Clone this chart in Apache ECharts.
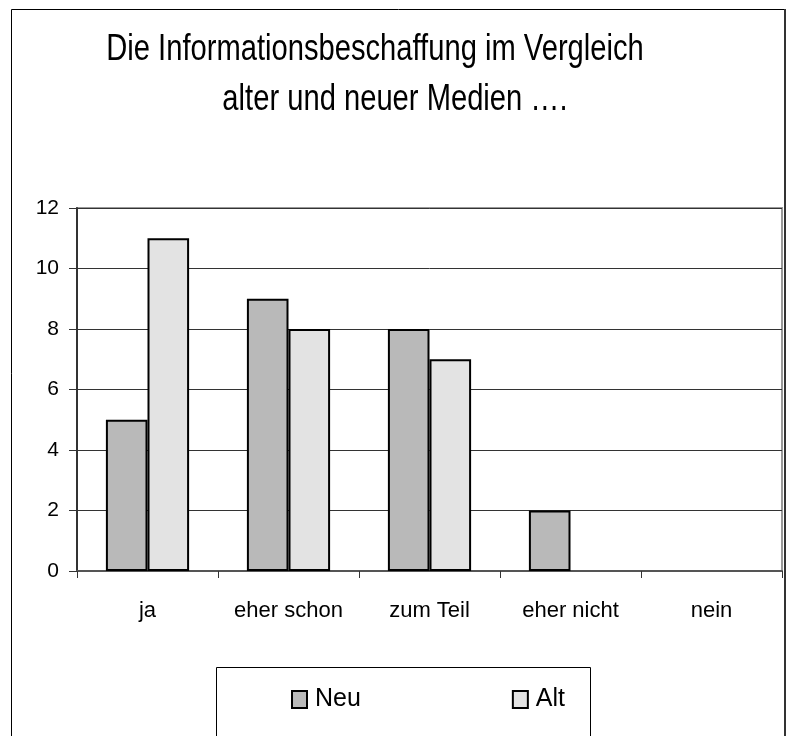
<!DOCTYPE html>
<html><head><meta charset="utf-8">
<script src="https://cdn.jsdelivr.net/npm/echarts@6/dist/echarts.min.js"></script>
<style>html,body{margin:0;padding:0;background:#fff}#c{width:790px;height:736px}</style>
</head><body><div id="c"></div>
<script>
var categories = ['ja', 'eher schon', 'zum Teil', 'eher nicht', 'nein'];
var neu = [5, 9, 8, 2, 0];
var alt = [11, 8, 7, 0, 0];
var yTicks = [0, 2, 4, 6, 8, 10, 12];
var titleLines = ['Die Informationsbeschaffung im Vergleich', 'alter und neuer Medien ….'];

function hideZero(arr) {
  return arr.map(function (v) { return v === 0 ? '-' : v; });
}

var chart = echarts.init(document.getElementById('c'));
var font = '"Liberation Sans", Arial, sans-serif';
chart.setOption({
  backgroundColor: '#fff',
  animation: false,
  graphic: [
    {type: 'rect', shape: {x: 11.5, y: 9.5, width: 774, height: 740}, style: {fill: 'none', stroke: '#000', lineWidth: 1}},
    {type: 'line', shape: {x1: 785, y1: 9, x2: 785, y2: 736}, style: {stroke: '#333', lineWidth: 2}},
    {type: 'rect', shape: {x: 216.5, y: 667.5, width: 374, height: 80}, style: {fill: 'none', stroke: '#000', lineWidth: 1}},
    {type: 'text', x: 375, y: 32, scaleX: 0.81,
     style: {text: titleLines[0], textAlign: 'center', textVerticalAlign: 'top', fontFamily: font, fontSize: 36, fill: '#000'}},
    {type: 'text', x: 395, y: 82, scaleX: 0.81,
     style: {text: titleLines[1], textAlign: 'center', textVerticalAlign: 'top', fontFamily: font, fontSize: 36, fill: '#000'}}
  ],
  legend: {
    left: 286, top: 682, itemWidth: 15, itemHeight: 17, itemGap: 151,
    textStyle: {fontFamily: font, fontSize: 25, color: '#000', padding: [0, 0, 0, 3]},
    data: [{name: 'Neu', icon: 'rect'}, {name: 'Alt', icon: 'rect'}]
  },
  grid: {left: 77, right: 8, top: 208, bottom: 165, show: true, borderColor: '#999', borderWidth: 2, backgroundColor: '#fff'},
  xAxis: {
    type: 'category', data: categories,
    axisLine: {lineStyle: {color: '#555', width: 2}},
    axisTick: {show: true, length: 7, lineStyle: {color: '#333'}},
    axisLabel: {fontFamily: font, fontSize: 22, color: '#000', margin: 29, interval: 0}
  },
  yAxis: {
    type: 'value', min: yTicks[0], max: yTicks[yTicks.length - 1], interval: 2,
    axisLine: {show: true, lineStyle: {color: '#333', width: 2}},
    axisTick: {show: true, length: 8, lineStyle: {color: '#333'}},
    axisLabel: {fontFamily: font, fontSize: 21, color: '#000', margin: 18},
    splitLine: {show: true, lineStyle: {color: '#333', width: 1}}
  },
  series: [
    {name: 'Neu', type: 'bar', data: hideZero(neu), barGap: '0%', barCategoryGap: '41%',
     itemStyle: {color: '#b9b9b9', borderColor: '#000', borderWidth: 2}},
    {name: 'Alt', type: 'bar', data: hideZero(alt),
     itemStyle: {color: '#e3e3e3', borderColor: '#000', borderWidth: 2}}
  ]
});
</script></body></html>
